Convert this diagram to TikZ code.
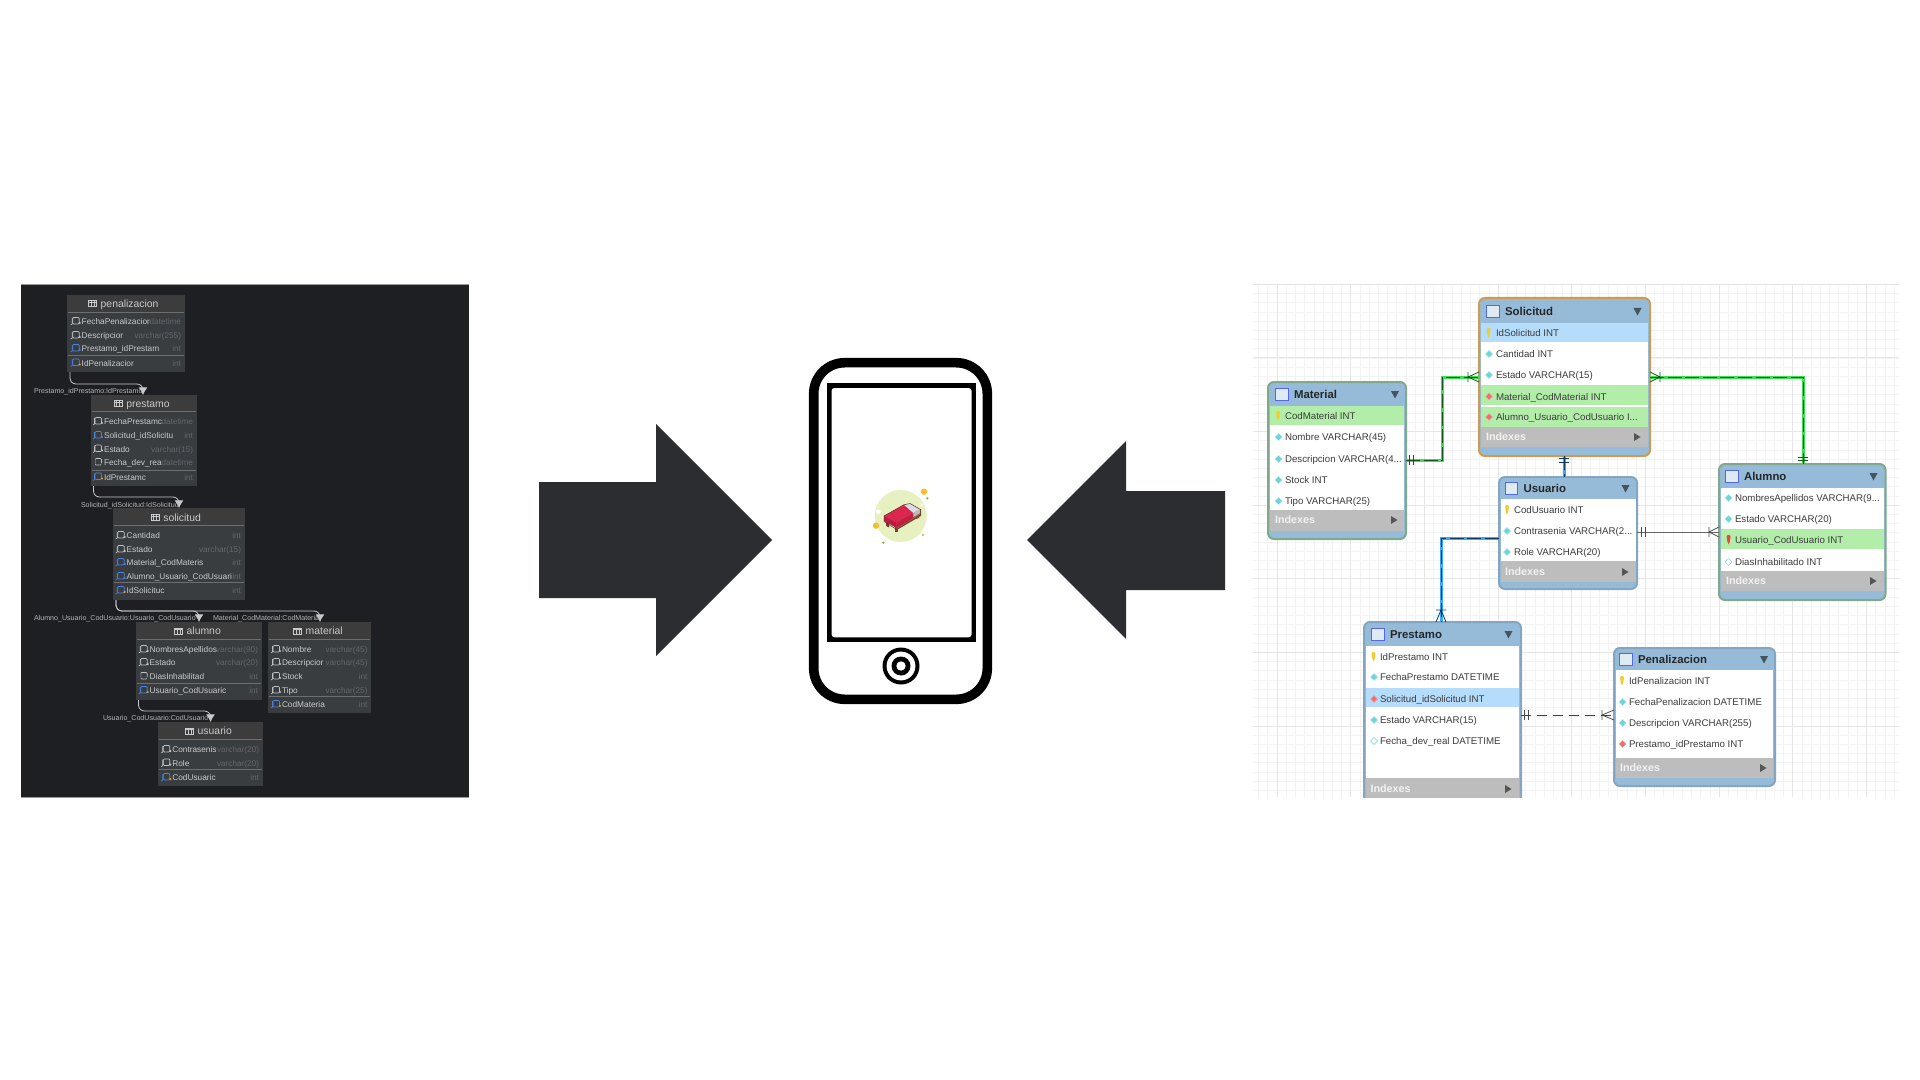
\documentclass[tikz,border=0pt]{standalone}
\usepackage{fontspec}
\setmainfont{Liberation Sans}
\usetikzlibrary{arrows.meta,calc}
\definecolor{panel}{HTML}{1E1F22}
\definecolor{lrowbg}{HTML}{3A3D40}
\definecolor{lhead}{HTML}{3C3C3C}
\definecolor{lsep}{HTML}{6C6E70}
\definecolor{ltxt}{HTML}{C9CACC}
\definecolor{ltype}{HTML}{63666A}
\definecolor{lblue}{HTML}{4C82E0}
\definecolor{lgold}{HTML}{D8A030}
\definecolor{lico}{HTML}{BFC1C4}
\definecolor{arrowk}{HTML}{2B2D31}
\definecolor{hdr}{HTML}{96BBD8}
\definecolor{hdrb}{HTML}{84A6C2}
\definecolor{grn}{HTML}{B2EEAA}
\definecolor{selb}{HTML}{B5DCFB}
\definecolor{idx}{HTML}{BDBDBD}
\definecolor{rtxt}{HTML}{3C3C3C}
\definecolor{dia}{HTML}{6FD3DA}
\definecolor{fk}{HTML}{E8706F}
\definecolor{keyy}{HTML}{F2CE2A}
\definecolor{keyr}{HTML}{E8453C}
\definecolor{bgreen}{HTML}{7FA98A}
\definecolor{borange}{HTML}{D09A50}
\definecolor{gmin}{HTML}{F3F3F3}
\definecolor{gmaj}{HTML}{E6E6E6}
\definecolor{lgreen}{HTML}{3FDC55}
\definecolor{dgreen}{HTML}{0E5A1A}
\definecolor{lbl2}{HTML}{35ABF7}
\definecolor{dblue}{HTML}{0B3A66}
\definecolor{bedbg}{HTML}{E6F0C0}
\definecolor{bedy}{HTML}{F5C030}
\definecolor{bedg}{HTML}{8FB050}
\definecolor{bedleg}{HTML}{6E4030}
\definecolor{bedfr}{HTML}{9A6848}
\definecolor{bedrs}{HTML}{B81D3F}
\definecolor{bedrf}{HTML}{C0203F}
\definecolor{bedrt}{HTML}{DB2650}
\definecolor{bedw}{HTML}{DADAE2}
\definecolor{bedo}{HTML}{5A2A20}
\newcount\nn
\newcommand\txt[4]{\global\advance\nn by 1 \node[#1,name=n\the\nn] at (#2,#3) {#4};}
\tikzset{
  tnode/.style={inner sep=0pt,outer sep=0pt,text height=.72em,text depth=.18em,yshift=.75pt},
  ltitle/.style={tnode,anchor=west,text=ltxt,font=\fontsize{5.2}{6}\selectfont},
  lrow/.style={tnode,anchor=west,text=ltxt,font=\fontsize{4.15}{5}\selectfont},
  ltyp/.style={tnode,anchor=east,text=ltype,font=\fontsize{4.1}{5}\selectfont},
  llab/.style={tnode,anchor=west,text=ltxt!90!black,font=\fontsize{3.55}{4}\selectfont},
  ltable/.style={anchor=north west,inner sep=0pt,outer sep=0pt,fill=lrowbg},
  lconn/.style={draw=ltxt,line width=.4pt,rounded corners=3pt},
  ltip/.style={-{Latex[length=3.8pt,width=4.4pt]}},
  rtable/.style={anchor=north west,inner sep=0pt,outer sep=0pt,fill=hdr,rounded corners=3pt,line width=1pt},
  rtitle/.style={tnode,anchor=west,text=black!85,font=\bfseries\fontsize{5.7}{6}\selectfont},
  rrow/.style={tnode,anchor=west,text=rtxt,font=\fontsize{4.85}{6}\selectfont},
  ridx/.style={tnode,anchor=west,text=white!95!black,font=\bfseries\fontsize{5.4}{6}\selectfont},
  gline/.style={preaction={draw=lgreen,line width=1.5pt},draw=dgreen,line width=.4pt,dash pattern=on 7pt off 1.8pt},
  bline/.style={preaction={draw=lbl2,line width=1.5pt},draw=dblue,line width=.4pt,dash pattern=on 7pt off 1.8pt},
  markg/.style={draw=dgreen,line width=.4pt},
  markb/.style={draw=dblue,line width=.4pt},
  markk/.style={draw=black!70,line width=.4pt},
  dashk/.style={draw=black!75,line width=.45pt,dash pattern=on 5pt off 3pt},
  solidk/.style={draw=black!60,line width=.5pt},
}
\newcommand\ltbl[7]{%
  \node[ltable,minimum width={(#4-#2)*0.5pt},minimum height={(#5-#3)*0.5pt}] (#1) at (#2,#3) {};
  \fill[lhead] (#2,#3) rectangle (#4,#6);
  \draw[lsep,line width=.45pt] (#2+1,#6) -- (#4-1,#6);
  \draw[lsep,line width=.45pt] (#2+1,#7) -- (#4-1,#7);
}
\newcommand\ltitleicon[2]{%
  \draw[ltxt,line width=.3pt] (#1-12.5,#2-3) rectangle (#1-4,#2+3);
  \draw[ltxt,line width=.3pt] (#1-12.5,#2-1.5) -- (#1-4,#2-1.5);
  \draw[ltxt,line width=.3pt] (#1-9.7,#2-3) -- (#1-9.7,#2+3) (#1-6.8,#2-3) -- (#1-6.8,#2+3);
}
% x of text, y, icon colour, dot colour, tail colour
\newcommand\licon[5]{%
  \draw[#3,line width=.33pt,rounded corners=.5pt] (#1-9,#2-3.5) rectangle (#1-2.5,#2+3);
  \draw[#5,line width=.33pt] (#1-9.5,#2-3) -- (#1-9.5,#2+3) -- (#1-11,#2+4);
  \fill[#4] (#1-2,#2+2) circle (.6pt);
}
\newcommand\lr[8]{% textx, typeright, y, text, type, iconcol, dotcol, tailcol
  \licon{#1}{#3}{#6}{#7}{#8}
  \txt{lrow}{#1}{#3}{#4}
  \txt{ltyp}{#2}{#3}{#5}
}
\newcommand\rtbl[6]{%
  \node[rtable,draw=#6,minimum width={(#4-#2)*0.5pt},minimum height={(#5-#3)*0.5pt}] (#1) at (#2,#3) {};
}
\newcommand\rband[5]{\fill[#5] (#1,#2) rectangle (#3,#4);}
\newcommand\thead[4]{% titlex, y, title, trianglex
  \fill[white!70!hdr] (#1-18.5,#2-6.5) rectangle (#1-6,#2+5.5);
  \draw[blue!45!hdr,line width=.4pt] (#1-18.5,#2-6.5) rectangle (#1-6,#2+5.5);
  \txt{rtitle}{#1}{#2}{#3}
  \fill[black!55!hdr] (#4-4,#2-4) -- (#4+4,#2-4) -- (#4,#2+3.5) -- cycle;
}
\newcommand\tidx[3]{% x, arrowx, y
  \txt{ridx}{#1}{#3}{Indexes}
  \fill[black!55!idx] (#2-3,#3-4) -- (#2+3.5,#3) -- (#2-3,#3+4) -- cycle;
}
\newcommand\rk[5]{% iconx, textx, y, text, keycolour
  \fill[#5,rounded corners=.7pt] (#1-2.2,#3-5) -- (#1+2.2,#3-5) -- (#1+.8,#3+4) -- (#1-.8,#3+4) -- cycle;
  \txt{rrow}{#2}{#3}{#4}
}
\newcommand\rd[6]{% iconx, textx, y, text, fill, draw
  \filldraw[fill=#5,draw=#6,line width=.2pt] (#1-3.5,#3) -- (#1,#3-3.5) -- (#1+3.5,#3) -- (#1,#3+3.5) -- cycle;
  \txt{rrow}{#2}{#3}{#4}
}
\begin{document}
\begin{tikzpicture}[x=0.5pt,y=-0.5pt]
\fill[white] (0,0) rectangle (1920,1080);
\useasboundingbox (0,0) rectangle (1920,1080);

% ---------- left dark panel
\fill[panel] (21,284) rectangle (469,797);
\draw[black!40,line width=.3pt] (21,284) -- (469,284) (21,797) -- (469,797);

\ltbl{pen}{67}{295}{185}{372}{312}{355}
\ltitleicon{100.7}{303.5}\txt{ltitle}{100.7}{303.5}{penalizacion}
\lr{81.7}{181}{321}{FechaPenalizacior}{datetime}{lico}{lico}{lico}
\lr{81.7}{181}{335}{Descripcior}{varchar(255)}{lico}{lico}{lico}
\lr{81.7}{181}{348}{Prestamo\_idPrestam}{int}{lblue}{lblue}{lblue}
\lr{81.7}{181}{362.5}{IdPenalizacior}{int}{lblue}{lgold}{lblue}

\ltbl{pre}{90.5}{395}{197}{486}{411}{470}
\ltitleicon{126.3}{403.5}\txt{ltitle}{126.3}{403.5}{prestamo}
\lr{104}{193}{421}{FechaPrestamc}{datetime}{lico}{lico}{lico}
\lr{104}{193}{435}{Solicitud\_idSolicitu}{int}{lblue}{lblue}{lblue}
\lr{104}{193}{448.5}{Estado}{varchar(15)}{lico}{lico}{lico}
\lr{104}{193}{462}{Fecha\_dev\_rea}{datetime}{lico}{lrowbg}{lrowbg}
\lr{104}{193}{476.5}{IdPrestamc}{int}{lblue}{lgold}{lblue}

\ltbl{sol}{113}{508}{245}{600}{525}{582}
\ltitleicon{163.3}{517.3}\txt{ltitle}{163.3}{517.3}{solicitud}
\lr{126.7}{241}{535}{Cantidad}{int}{lico}{lico}{lico}
\lr{126.7}{241}{549}{Estado}{varchar(15)}{lico}{lico}{lico}
\lr{126.7}{241}{562}{Material\_CodMateris}{int}{lblue}{lblue}{lblue}
\lr{126.7}{241}{576}{Alumno\_Usuario\_CodUsuari}{int}{lblue}{lblue}{lblue}
\lr{126.7}{241}{590}{IdSolicituc}{int}{lblue}{lgold}{lblue}

\ltbl{alu}{136}{622}{262}{700}{639}{683}
\ltitleicon{186.7}{631}\txt{ltitle}{186.7}{631}{alumno}
\lr{149.7}{258}{649}{NombresApellidos}{varchar(90)}{lico}{lico}{lico}
\lr{149.7}{258}{662}{Estado}{varchar(20)}{lico}{lico}{lico}
\lr{149.7}{258}{676}{DiasInhabilitad}{int}{lico}{lrowbg}{lrowbg}
\lr{149.7}{258}{690}{Usuario\_CodUsuaric}{int}{lblue}{lgold}{lblue}

\ltbl{mat}{268}{622}{371}{713}{639}{696}
\ltitleicon{305.7}{631}\txt{ltitle}{305.7}{631}{material}
\lr{282}{367.5}{649}{Nombre}{varchar(45)}{lico}{lico}{lico}
\lr{282}{367.5}{662}{Descripcior}{varchar(45)}{lico}{lico}{lico}
\lr{282}{367.5}{676}{Stock}{int}{lico}{lico}{lico}
\lr{282}{367.5}{690}{Tipo}{varchar(25)}{lico}{lico}{lico}
\lr{282}{367.5}{704}{CodMateria}{int}{lblue}{lgold}{lblue}

\ltbl{usu}{158}{722}{263}{786}{739}{769}
\ltitleicon{197.7}{731}\txt{ltitle}{197.7}{731}{usuario}
\lr{172.3}{259}{749}{Contrasenis}{varchar(20)}{lico}{lico}{lico}
\lr{172.3}{259}{762.5}{Role}{varchar(20)}{lico}{lico}{lico}
\lr{172.3}{259}{777}{CodUsuaric}{int}{lblue}{lgold}{lblue}

\draw[lconn,ltip] ($(pen.south west)+(3,0)$) |- ($(pre.north west)+(52.5,-11)$) -- ($(pre.north west)+(52.5,0)$);
\draw[lconn,ltip] ($(pre.south west)+(3,0)$) |- ($(sol.north west)+(66,-11)$) -- ($(sol.north west)+(66,0)$);
\draw[lconn,ltip] ($(sol.south west)+(3,0)$) |- ($(alu.north west)+(63,-11)$) -- ($(alu.north west)+(63,0)$);
\draw[lconn,ltip] ($(sol.south west)+(3,0)$) |- ($(mat.north west)+(52,-11)$) -- ($(mat.north west)+(52,0)$);
\draw[lconn,ltip] ($(alu.south west)+(2.5,0)$) |- ($(usu.north west)+(52.5,-11)$) -- ($(usu.north west)+(52.5,0)$);
\txt{llab}{34}{389.5}{Prestamo\_idPrestamo:IdPrestamo}
\txt{llab}{81}{503.5}{Solicitud\_idSolicitud:IdSolicitud}
\txt{llab}{34}{617}{Alumno\_Usuario\_CodUsuario:Usuario\_CodUsuario}
\txt{llab}{213}{617}{Material\_CodMaterial:CodMaterial}
\txt{llab}{103}{717}{Usuario\_CodUsuario:CodUsuario}

% ---------- block arrows
\fill[arrowk] (539,482) -- (656,482) -- (656,424) -- (772,540) -- (656,656) -- (656,598) -- (539,598) -- cycle;
\fill[arrowk] (1225,491) -- (1126,491) -- (1126,441) -- (1027,540) -- (1126,639) -- (1126,590) -- (1225,590) -- cycle;

% ---------- phone
\draw[black,line width=4.8pt,rounded corners=15.5pt] (813.7,362.7) rectangle (987.3,699.3);
\fill[black] (827,383) rectangle (976,642);
\fill[white,rounded corners=1.5pt] (831.5,388) rectangle (971.6,637.3);
\fill[black] (901,666) circle (9.25pt);
\fill[white] (901,666) circle (7.2pt);
\fill[black] (901,666) circle (4.75pt);
\fill[white] (901,666) circle (2.35pt);

% bed icon
\fill[bedbg] (900.7,516) circle (13pt);
\fill[white] (878.3,511.7) circle (1.2pt) (921.7,505) circle (.8pt);
\fill[bedy] (924,491.7) circle (1.6pt) (876,525.7) circle (1.6pt) (923,535) circle (.7pt);
\fill[bedg] (927.3,498.3) circle (.65pt) (883.3,542.7) circle (.65pt);
\fill[bedleg] (886,522) -- (886,526) -- (889,527.5) -- (889,523.5) -- cycle;
\fill[bedleg] (895,527) -- (895,531.5) -- (898,531.5) -- (898,527) -- cycle;
\fill[bedleg] (916,514) -- (916,519) -- (919,518) -- (919,513) -- cycle;
\fill[bedfr] (884,520) -- (896.7,527) -- (896.7,530) -- (921,516) -- (921,509) -- (884,516) -- cycle;
\fill[bedrs] (884,516) -- (896.7,522.7) -- (896.7,528) -- (884,521) -- cycle;
\fill[bedrf] (896.7,522.7) -- (913.3,513) -- (913.3,518) -- (896.7,528) -- cycle;
\fill[bedrt] (884,516) -- (904,504.7) -- (913.3,513) -- (896.7,522.7) -- cycle;
\fill[bedw] (904,504.7) -- (910,503.5) -- (920,509.5) -- (913.3,513) -- cycle;
\fill[bedw!85!black] (913.3,513) -- (920,509.5) -- (920,513) -- (913.3,517) -- cycle;
\draw[bedo,line width=.25pt,line join=round] (884,516) -- (904,504.7) -- (910,503.5) -- (920.5,509.5) -- (920.5,515) -- (896.7,529.5) -- (884,521.5) -- cycle;

% ---------- right panel
\begin{scope}
\clip (1253,285) rectangle (1899,797);
\foreach \k in {-2,...,68} {\draw[gmin,line width=.35pt] ({1277+\k*9.21},285) -- ({1277+\k*9.21},797);}
\foreach \k in {-9,...,56} {\draw[gmin,line width=.35pt] (1253,{358+\k*9.2}) -- (1899,{358+\k*9.2});}
\foreach \k in {0,...,8} {\draw[gmaj,line width=.5pt] ({1277+\k*73.7},285) -- ({1277+\k*73.7},797);}
\foreach \k in {-1,...,6} {\draw[gmaj,line width=.5pt] (1253,{358+\k*73.6}) -- (1899,{358+\k*73.6});}

% tables
\rtbl{rsol}{1479}{298}{1650}{456}{borange}
\rband{1481}{323}{1648}{342}{selb}
\rband{1481}{342}{1648}{385}{white}
\rband{1481}{385}{1648}{405}{grn}
\rband{1481}{405}{1648}{407}{white}
\rband{1481}{407}{1648}{427}{grn}
\rband{1481}{427}{1648}{447}{idx}
\thead{1505}{312}{Solicitud}{1637.5}
\rk{1488.5}{1496}{333}{IdSolicitud INT}{keyy}
\rd{1489}{1496}{354}{Cantidad INT}{dia}{dia!60!white}
\rd{1489}{1496}{375}{Estado VARCHAR(15)}{dia}{dia!60!white}
\rd{1489}{1496}{396.5}{Material\_CodMaterial INT}{fk}{fk!60!white}
\rd{1489}{1496}{417}{Alumno\_Usuario\_CodUsuario I...}{fk}{fk!60!white}
\tidx{1486}{1637}{437}

\rtbl{rmat}{1268}{382}{1406}{539}{bgreen}
\rband{1270}{406}{1404}{425}{grn}
\rband{1270}{425}{1404}{510}{white}
\rband{1270}{510}{1404}{531}{idx}
\thead{1294}{395}{Material}{1395}
\rk{1278}{1285}{416}{CodMaterial INT}{keyy}
\rd{1278.6}{1285}{437}{Nombre VARCHAR(45)}{dia}{dia!60!white}
\rd{1278.6}{1285}{459}{Descripcion VARCHAR(4...}{dia}{dia!60!white}
\rd{1278.6}{1285}{480}{Stock INT}{dia}{dia!60!white}
\rd{1278.6}{1285}{501}{Tipo VARCHAR(25)}{dia}{dia!60!white}
\tidx{1275}{1394}{520}

\rtbl{rusu}{1499}{477}{1637}{589}{hdrb}
\rband{1500.5}{499}{1635.5}{561}{white}
\rband{1500.5}{561}{1635.5}{582}{idx}
\thead{1523.5}{489}{Usuario}{1625.5}
\rk{1507}{1514}{510}{CodUsuario INT}{keyy}
\rd{1507}{1514}{531}{Contrasenia VARCHAR(2...}{dia}{dia!60!white}
\rd{1507}{1514}{552}{Role VARCHAR(20)}{dia}{dia!60!white}
\tidx{1505}{1625}{572}

\rtbl{ralu}{1719}{464}{1885.5}{600}{bgreen}
\rband{1721}{488}{1884}{529}{white}
\rband{1721}{529}{1884}{549}{grn}
\rband{1721}{549}{1884}{571}{white}
\rband{1721}{571}{1884}{591}{idx}
\thead{1744}{477}{Alumno}{1873.5}
\rd{1728.6}{1735}{498}{NombresApellidos VARCHAR(9...}{dia}{dia!60!white}
\rd{1728.6}{1735}{519}{Estado VARCHAR(20)}{dia}{dia!60!white}
\rk{1728.6}{1735}{540}{Usuario\_CodUsuario INT}{keyr}
\rd{1728.6}{1735}{562}{DiasInhabilitado INT}{white}{dia}
\tidx{1726}{1873}{581}

\rtbl{rpre}{1364}{622}{1521}{815}{hdrb}
\rband{1366}{646}{1519}{688}{white}
\rband{1366}{688}{1519}{707}{selb}
\rband{1366}{707}{1519}{778}{white}
\rband{1366}{778}{1519}{800}{idx}
\thead{1390}{635}{Prestamo}{1508.5}
\rk{1373.5}{1380}{657}{IdPrestamo INT}{keyy}
\rd{1374}{1380}{677}{FechaPrestamo DATETIME}{dia}{dia!60!white}
\rd{1374}{1380}{699}{Solicitud\_idSolicitud INT}{fk}{fk!60!white}
\rd{1374}{1380}{720}{Estado VARCHAR(15)}{dia}{dia!60!white}
\rd{1374}{1380}{741}{Fecha\_dev\_real DATETIME}{white}{dia}
\tidx{1370.5}{1508}{789}

\rtbl{rpen}{1614}{648}{1775}{786}{hdrb}
\rband{1616}{670}{1773}{758}{white}
\rband{1616}{758}{1773}{778}{idx}
\thead{1638}{660}{Penalizacion}{1764}
\rk{1622}{1629}{681}{IdPenalizacion INT}{keyy}
\rd{1622.6}{1629}{702}{FechaPenalizacion DATETIME}{dia}{dia!60!white}
\rd{1622.6}{1629}{723}{Descripcion VARCHAR(255)}{dia}{dia!60!white}
\rd{1622.6}{1629}{744}{Prestamo\_idPrestamo INT}{fk}{fk!60!white}
\tidx{1620}{1763}{768}

% connectors
\coordinate (mS) at ($(rmat.north east)+(0,78)$);
\coordinate (mE) at ($(rsol.north west)+(0,79)$);
\coordinate (aS) at ($(rsol.north east)+(0,79)$);
\coordinate (aE) at ($(ralu.north west)+(84,0)$);
\coordinate (sU) at ($(rsol.south west)+(85,0)$);
\coordinate (uT) at ($(rusu.north west)+(65,0)$);
\coordinate (uP) at ($(rusu.north west)+(0,61)$);
\coordinate (pT) at ($(rpre.north west)+(77,0)$);
\coordinate (uA) at ($(rusu.north east)+(0,55)$);
\coordinate (aU) at ($(ralu.north west)+(0,68)$);
\coordinate (pP) at ($(rpre.north east)+(0,93)$);
\coordinate (nP) at ($(rpen.north west)+(0,67)$);

\draw[gline] (mS) -- ++(36,0) |- (mE);
\draw[gline] (aS) -| (aE);
\draw[bline] (sU) -- (uT);
\draw[bline] (uP) -| (pT);
\draw[solidk] (uA) -- (aU);
\draw[dashk] (pP) -- (nP);

% end marks: double bars
\draw[markg] ($(mS)+(3,-5)$) -- ++(0,10) ($(mS)+(7,-5)$) -- ++(0,10);
\draw[markg] ($(aE)+(-5,-7)$) -- ++(10,0) ($(aE)+(-5,-4)$) -- ++(10,0);
\draw[markb] ($(sU)+(-5,2)$) -- ++(10,0) ($(sU)+(-5,6)$) -- ++(10,0);
\draw[markk] ($(uA)+(4,-5)$) -- ++(0,10) ($(uA)+(8,-5)$) -- ++(0,10);
\draw[markk] ($(pP)+(3,-5)$) -- ++(0,10) ($(pP)+(7,-5)$) -- ++(0,10);
% end marks: crow's feet
\draw[markg] ($(mE)+(-11,-5)$) -- ++(0,10) ($(mE)+(-11,0)$) -- ($(mE)+(0,-5)$) ($(mE)+(-11,0)$) -- ($(mE)+(0,5)$);
\draw[markg] ($(aS)+(10,-5)$) -- ++(0,10) ($(aS)+(10,0)$) -- ($(aS)+(0,-5)$) ($(aS)+(10,0)$) -- ($(aS)+(0,5)$);
\draw[markb] ($(pT)+(-5,-12)$) -- ++(10,0) ($(pT)+(0,-12)$) -- ($(pT)+(-5,0)$) ($(pT)+(0,-12)$) -- ($(pT)+(5,0)$);
\draw[markk] ($(aU)+(-10,-5)$) -- ++(0,10) ($(aU)+(-10,0)$) -- ($(aU)+(0,-5)$) ($(aU)+(-10,0)$) -- ($(aU)+(0,5)$);
\draw[markk] ($(nP)+(-12,-5)$) -- ++(0,10) ($(nP)+(-12,0)$) -- ($(nP)+(0,-5)$) ($(nP)+(-12,0)$) -- ($(nP)+(0,5)$);
\end{scope}
\end{tikzpicture}
\end{document}
